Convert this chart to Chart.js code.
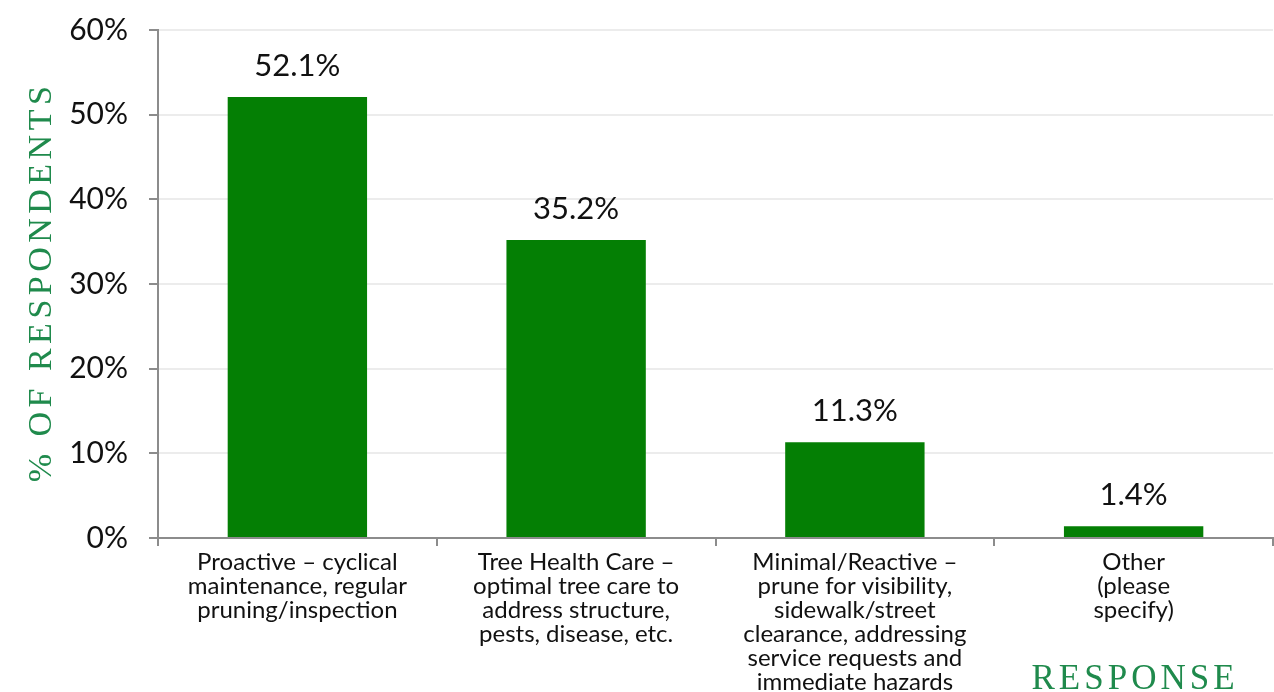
<!DOCTYPE html>
<html>
<head>
<meta charset="utf-8">
<script src="https://cdn.jsdelivr.net/npm/chart.js@4/dist/chart.umd.min.js"></script>
<style>
  html, body { margin:0; padding:0; background:#fff; }
  #wrap { width:1274px; height:692px; position:relative; }
</style>
</head>
<body>
<div id="wrap"><canvas id="chart"></canvas></div>
<script>
const categories = [
  ['Proactive \u2013 cyclical', 'maintenance, regular', 'pruning/inspection'],
  ['Tree Health Care \u2013', 'optimal tree care to', 'address structure,', 'pests, disease, etc.'],
  ['Minimal/Reactive \u2013', 'prune for visibility,', 'sidewalk/street', 'clearance, addressing', 'service requests and', 'immediate hazards'],
  ['Other', '(please', 'specify)']
];
const shares = [52.1, 35.2, 11.3, 1.4];
const yTicks = [0, 10, 20, 30, 40, 50, 60];

const BAR = '#047f04';
const TITLE_GREEN = '#1f8a4c';
const AXIS = '#8c8c8c';

const extras = {
  id: 'extras',
  afterDatasetsDraw(chart){
    const ctx = chart.ctx;
    const meta = chart.getDatasetMeta(0);
    ctx.save();
    ctx.fillStyle = '#111';
    ctx.font = "31px Lato";
    ctx.textAlign = 'center';
    ctx.textBaseline = 'alphabetic';
    meta.data.forEach((bar, i) => {
      ctx.fillText(shares[i].toFixed(1) + '%', bar.x, bar.y - 21);
    });
    ctx.restore();
  },
  afterDraw(chart){
    const ctx = chart.ctx;
    const area = chart.chartArea;
    ctx.save();
    ctx.fillStyle = TITLE_GREEN;
    ctx.font = "34px 'Liberation Serif'";
    ctx.letterSpacing = '4.5px';
    ctx.textAlign = 'center';
    ctx.textBaseline = 'middle';
    ctx.translate(42, (area.top + area.bottom) / 2);
    ctx.rotate(-Math.PI / 2);
    ctx.fillText('% OF RESPONDENTS', 2, 0);
    ctx.restore();

    ctx.save();
    ctx.fillStyle = TITLE_GREEN;
    ctx.font = "35px 'Liberation Serif'";
    ctx.letterSpacing = '4px';
    ctx.textAlign = 'center';
    ctx.textBaseline = 'alphabetic';
    ctx.fillText('RESPONSE', area.right - 138, chart.height - 3);
    ctx.restore();
  }
};

new Chart(document.getElementById('chart'), {
  type: 'bar',
  data: {
    labels: categories,
    datasets: [{
      data: shares,
      backgroundColor: BAR,
      borderWidth: 0,
      barPercentage: 0.5,
      categoryPercentage: 1.0
    }]
  },
  options: {
    responsive: true,
    maintainAspectRatio: false,
    animation: false,
    layout: { padding: { top: 30, right: 1, left: 0, bottom: 0 } },
    plugins: { legend: { display:false }, tooltip: { enabled:false } },
    scales: {
      x: {
        afterFit: s => { s.height = 154; s.paddingLeft = 0; s.paddingRight = 0; },
        border: { color: AXIS, width: 2 },
        grid: { drawOnChartArea: false, drawTicks: true, tickLength: 8, tickColor: AXIS, lineWidth: 2 },
        ticks: { color:'#111', font:{ family:'Lato', size:24, lineHeight:1.0 }, maxRotation:0, autoSkip:false, padding:4 }
      },
      y: {
        min: 0, max: 60,
        afterFit: s => { s.width = 158; s.paddingTop = 0; s.paddingBottom = 0; },
        afterBuildTicks: s => { s.ticks = yTicks.map(v => ({ value: v })); },
        border: { color: AXIS, width: 2 },
        grid: { color: '#ececec', lineWidth: 2, tickColor: AXIS, tickLength: 9 },
        ticks: { color:'#111', font:{ family:'Lato', size:30 }, padding: 21, callback: v => v + '%' }
      }
    }
  },
  plugins: [extras]
});
</script>
</body>
</html>
